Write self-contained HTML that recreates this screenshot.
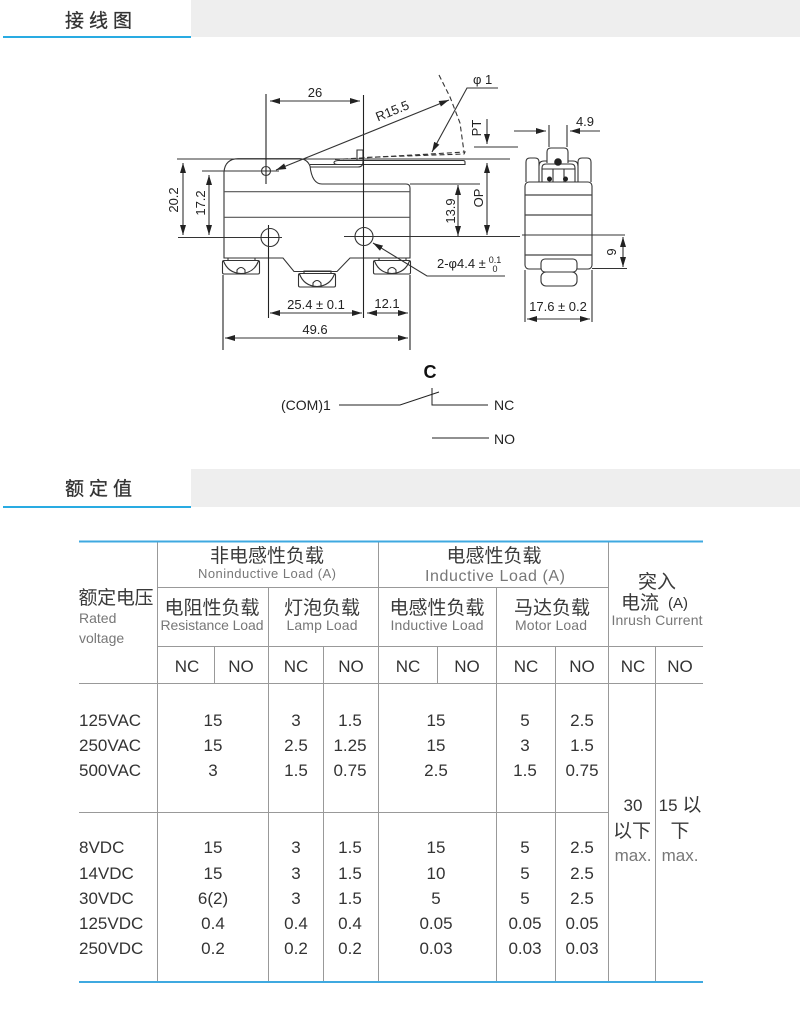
<!DOCTYPE html>
<html>
<head>
<meta charset="utf-8">
<style>
html,body{margin:0;padding:0;background:#fff;width:800px;height:1014px;overflow:hidden}
svg{display:block}
.d text{font-family:"Liberation Sans",sans-serif;font-size:13px;fill:#222}
.t text{font-family:"Liberation Sans","Noto Sans CJK SC",sans-serif;fill:#333;text-anchor:middle}
.t .cn{font-size:19px;fill:#3a3a3a;font-family:"Noto Sans CJK SC",sans-serif}
.t .g{fill:#777}
.t .n{font-size:17px;fill:#333}
.t .l{text-anchor:start}
.h{font-family:"Noto Sans CJK SC",sans-serif;font-size:19px;fill:#333;letter-spacing:5px;stroke:#333;stroke-width:.3px}
</style>
</head>
<body>
<svg width="800" height="1014" viewBox="0 0 800 1014" xmlns="http://www.w3.org/2000/svg">
<defs>
<marker id="a" viewBox="0 0 10 6" refX="10" refY="3" markerWidth="10" markerHeight="6" orient="auto-start-reverse" markerUnits="userSpaceOnUse"><path d="M0 0L10 3L0 6z" fill="#222" stroke="none"/></marker>
</defs>

<!-- section headers -->
<rect x="191" y="0" width="609" height="37" fill="#eeeeee"/>
<rect x="3" y="36" width="188" height="2" fill="#29abe2"/>
<text class="h" x="65" y="27">接线图</text>
<rect x="191" y="469" width="609" height="38" fill="#eeeeee"/>
<rect x="3" y="506" width="188" height="2" fill="#29abe2"/>
<text class="h" x="65" y="495">额定值</text>

<!-- front view -->
<g fill="none" stroke="#333" stroke-width="1.1">
<path d="M224 258V172Q225 159 238 158.7H300Q307 159 310 166Q312 184 322 184H406Q410 184 410 188V258H350L337 271.5H294L283 258Z"/>
<path d="M224 191.7H410M224 217.3H410" stroke="#555" stroke-width="1.2"/>
<path d="M310 164.5H465V162Q465 160.5 463 160.5H338Q334 161 334 162.5Q334 164.5 338 164.5"/>
<path d="M310 167H358Q363 167 363 162V150H357V160"/>
<path d="M335 159.5L465 152L464 154L363 157.5" stroke-dasharray="5 3"/>
<path d="M439 75L450 97L460 123L464 152" stroke-dasharray="5 3"/>
<!-- long lines -->
<path d="M177 159H510M202 171H279M178 237.5H282M344 236.5H520M410 184H480M474 147H518"/>
<path d="M266 94V184M363.5 95V318M268.5 225V318M223 275V350M410 275V350" stroke="#222"/>
<circle cx="266" cy="171" r="4.5"/>
<circle cx="270" cy="237.5" r="9"/>
<circle cx="364" cy="236.5" r="9"/>
<!-- terminals -->
<g id="tm">
<path d="M222.5 262Q222.5 260.5 224 260.5H258Q259.5 260.5 259.5 262V272.5Q259.5 274 258 274H224Q222.5 274 222.5 272.5ZM228 260.5V258H255V260.5M223.5 261Q228 273 241 273.5Q254 273 258.5 261M237 273.5V270Q241 265 245 270V273.5"/>
</g>
<use href="#tm" x="76" y="13"/>
<use href="#tm" x="151" y="0"/>
<!-- dims -->
<path d="M270 101H360" marker-start="url(#a)" marker-end="url(#a)"/>
<path d="M449 100L276 170" marker-start="url(#a)" marker-end="url(#a)"/>
<path d="M498 88H467L432 152" marker-end="url(#a)"/>
<path d="M487 119V144" marker-end="url(#a)"/>
<path d="M183 163V235" marker-start="url(#a)" marker-end="url(#a)"/>
<path d="M209 175V235" marker-start="url(#a)" marker-end="url(#a)"/>
<path d="M458 185V236" marker-start="url(#a)" marker-end="url(#a)"/>
<path d="M487 163V235" marker-start="url(#a)" marker-end="url(#a)"/>
<path d="M505 276H427L373 243" marker-end="url(#a)"/>
<path d="M270 313H362" marker-start="url(#a)" marker-end="url(#a)"/>
<path d="M367 313H408" marker-start="url(#a)" marker-end="url(#a)"/>
<path d="M225 338H408" marker-start="url(#a)" marker-end="url(#a)"/>
</g>
<g class="d">
<text x="315" y="97" text-anchor="middle">26</text>
<text transform="translate(394 115) rotate(-22)" text-anchor="middle">R15.5</text>
<text x="473" y="84">φ 1</text>
<text transform="translate(481 128) rotate(-90)" text-anchor="middle">PT</text>
<text transform="translate(178 200) rotate(-90)" text-anchor="middle">20.2</text>
<text transform="translate(205 203) rotate(-90)" text-anchor="middle">17.2</text>
<text transform="translate(455 211) rotate(-90)" text-anchor="middle">13.9</text>
<text transform="translate(483 198) rotate(-90)" text-anchor="middle">OP</text>
<text x="437" y="268">2-φ4.4 ±</text>
<text x="495" y="263" text-anchor="middle" style="font-size:9px">0.1</text>
<text x="495" y="272" text-anchor="middle" style="font-size:9px">0</text>
<text x="316" y="309" text-anchor="middle">25.4 ± 0.1</text>
<text x="387" y="308" text-anchor="middle">12.1</text>
<text x="315" y="334" text-anchor="middle">49.6</text>
</g>

<!-- side view -->
<g fill="none" stroke="#333" stroke-width="1.1">
<rect x="525" y="182" width="67" height="87" rx="4"/>
<path d="M525 195H592M525 215H592M525 255H592" stroke="#444" stroke-width="1.2"/>
<path d="M522 235H625"/>
<rect x="541" y="259" width="36" height="13" rx="4" fill="#fff"/>
<rect x="541" y="272" width="36" height="14" rx="5" fill="#fff"/>
<path d="M547 163V152Q547 148 551 148H564Q568 148 568 152V163"/>
<path d="M526 182V162Q526 158 530 158H535Q539 158 539 162V182M578 182V162Q578 158 582 158H587Q591 158 591 162V182"/>
<path d="M539 166Q539 161 544 161H547M568 161H573Q578 161 578 166"/>
<path d="M542 182V168Q542 164 546 164H571Q575 164 575 168V182M542 169H575M553 182V169M564 182V169"/>
<path d="M549 125V147M567 125V147M525 270V322M592 270V322M592 268.5H627"/>
<path d="M514 131H546" marker-end="url(#a)"/>
<path d="M600 131H570" marker-end="url(#a)"/>
<path d="M623 237V267" marker-start="url(#a)" marker-end="url(#a)"/>
<path d="M527 319H590" marker-start="url(#a)" marker-end="url(#a)"/>
</g>
<circle cx="558" cy="162" r="3.8" fill="#222"/>
<circle cx="549.5" cy="179" r="2.5" fill="#222"/>
<circle cx="565.5" cy="179" r="2.5" fill="#222"/>
<g class="d">
<text x="585" y="126" text-anchor="middle">4.9</text>
<text transform="translate(616 252) rotate(-90)" text-anchor="middle">9</text>
<text x="558" y="311" text-anchor="middle">17.6 ± 0.2</text>
</g>

<!-- schematic -->
<g fill="none" stroke="#222" stroke-width="1">
<path d="M339 405H400L439 392M432 388V405H488M432 438H489"/>
</g>
<g class="d">
<text x="430" y="378" text-anchor="middle" style="font-size:18px;font-weight:bold;fill:#111">C</text>
<text x="281" y="410" style="font-size:14px">(COM)1</text>
<text x="494" y="410" style="font-size:14px">NC</text>
<text x="494" y="444" style="font-size:14px">NO</text>
</g>

<!-- table lines -->
<g stroke="#999" stroke-width="1" fill="none">
<path d="M157.5 541V982M378.5 541V982M608.5 541V982"/>
<path d="M268.5 587V982M496.5 587V982"/>
<path d="M214.5 646V684M437.5 646V684"/>
<path d="M323.5 646V982M555.5 646V982M655.5 646V982"/>
<path d="M157 587.5H608M157 646.5H703M79 683.5H703M79 812.5H608"/>
</g>
<rect x="79" y="540.5" width="624" height="2" fill="#3fa9e0"/>
<rect x="79" y="981" width="624" height="2" fill="#3fa9e0"/>

<!-- table text -->
<g class="t">
<text class="cn" x="267" y="562">非电感性负载</text>
<text class="g" x="267" y="578" font-size="13" textLength="138">Noninductive Load (A)</text>
<text class="cn" x="494" y="562">电感性负载</text>
<text class="g" x="495" y="581" font-size="16" textLength="140">Inductive Load (A)</text>
<text class="cn" x="116" y="604" textLength="75">额定电压</text>
<text class="g l" x="79" y="623" font-size="14">Rated</text>
<text class="g l" x="79" y="643" font-size="14">voltage</text>
<text class="cn" x="212" y="614">电阻性负载</text>
<text class="g" x="212" y="630" font-size="14" textLength="103">Resistance Load</text>
<text class="cn" x="322" y="614">灯泡负载</text>
<text class="g" x="322" y="630" font-size="14" textLength="71">Lamp Load</text>
<text class="cn" x="437" y="614">电感性负载</text>
<text class="g" x="437" y="630" font-size="14" textLength="93">Inductive Load</text>
<text class="cn" x="552" y="614">马达负载</text>
<text class="g" x="551" y="630" font-size="14" textLength="72">Motor Load</text>
<text class="cn" x="657" y="588">突入</text>
<text class="cn" x="640" y="609">电流</text>
<text x="678" y="608" font-size="15">(A)</text>
<text class="g" x="657" y="625" font-size="14" textLength="91">Inrush Current</text>

<text class="n" x="187" y="672">NC</text><text class="n" x="241" y="672">NO</text>
<text class="n" x="296" y="672">NC</text><text class="n" x="351" y="672">NO</text>
<text class="n" x="408" y="672">NC</text><text class="n" x="467" y="672">NO</text>
<text class="n" x="526" y="672">NC</text><text class="n" x="582" y="672">NO</text>
<text class="n" x="633" y="672">NC</text><text class="n" x="680" y="672">NO</text>

<g>
<text class="n l" x="79" y="726">125VAC</text><text class="n" x="213" y="726">15</text><text class="n" x="296" y="726">3</text><text class="n" x="350" y="726">1.5</text><text class="n" x="436" y="726">15</text><text class="n" x="525" y="726">5</text><text class="n" x="582" y="726">2.5</text>
<text class="n l" x="79" y="751">250VAC</text><text class="n" x="213" y="751">15</text><text class="n" x="296" y="751">2.5</text><text class="n" x="350" y="751">1.25</text><text class="n" x="436" y="751">15</text><text class="n" x="525" y="751">3</text><text class="n" x="582" y="751">1.5</text>
<text class="n l" x="79" y="776">500VAC</text><text class="n" x="213" y="776">3</text><text class="n" x="296" y="776">1.5</text><text class="n" x="350" y="776">0.75</text><text class="n" x="436" y="776">2.5</text><text class="n" x="525" y="776">1.5</text><text class="n" x="582" y="776">0.75</text>

<text class="n l" x="79" y="853">8VDC</text><text class="n" x="213" y="853">15</text><text class="n" x="296" y="853">3</text><text class="n" x="350" y="853">1.5</text><text class="n" x="436" y="853">15</text><text class="n" x="525" y="853">5</text><text class="n" x="582" y="853">2.5</text>
<text class="n l" x="79" y="879">14VDC</text><text class="n" x="213" y="879">15</text><text class="n" x="296" y="879">3</text><text class="n" x="350" y="879">1.5</text><text class="n" x="436" y="879">10</text><text class="n" x="525" y="879">5</text><text class="n" x="582" y="879">2.5</text>
<text class="n l" x="79" y="904">30VDC</text><text class="n" x="213" y="904">6(2)</text><text class="n" x="296" y="904">3</text><text class="n" x="350" y="904">1.5</text><text class="n" x="436" y="904">5</text><text class="n" x="525" y="904">5</text><text class="n" x="582" y="904">2.5</text>
<text class="n l" x="79" y="929">125VDC</text><text class="n" x="213" y="929">0.4</text><text class="n" x="296" y="929">0.4</text><text class="n" x="350" y="929">0.4</text><text class="n" x="436" y="929">0.05</text><text class="n" x="525" y="929">0.05</text><text class="n" x="582" y="929">0.05</text>
<text class="n l" x="79" y="954">250VDC</text><text class="n" x="213" y="954">0.2</text><text class="n" x="296" y="954">0.2</text><text class="n" x="350" y="954">0.2</text><text class="n" x="436" y="954">0.03</text><text class="n" x="525" y="954">0.03</text><text class="n" x="582" y="954">0.03</text>
</g>

<text class="n" x="633" y="811">30</text>
<text class="cn" x="632" y="837">以下</text>
<text class="g" x="633" y="861" font-size="17">max.</text>
<text x="680" y="811" style="font-size:17px;fill:#333">15 <tspan style="font-family:'Noto Sans CJK SC';font-size:19px">以</tspan></text>
<text class="cn" x="680" y="837">下</text>
<text class="g" x="680" y="861" font-size="17">max.</text>
</g>
</svg>
</body>
</html>
